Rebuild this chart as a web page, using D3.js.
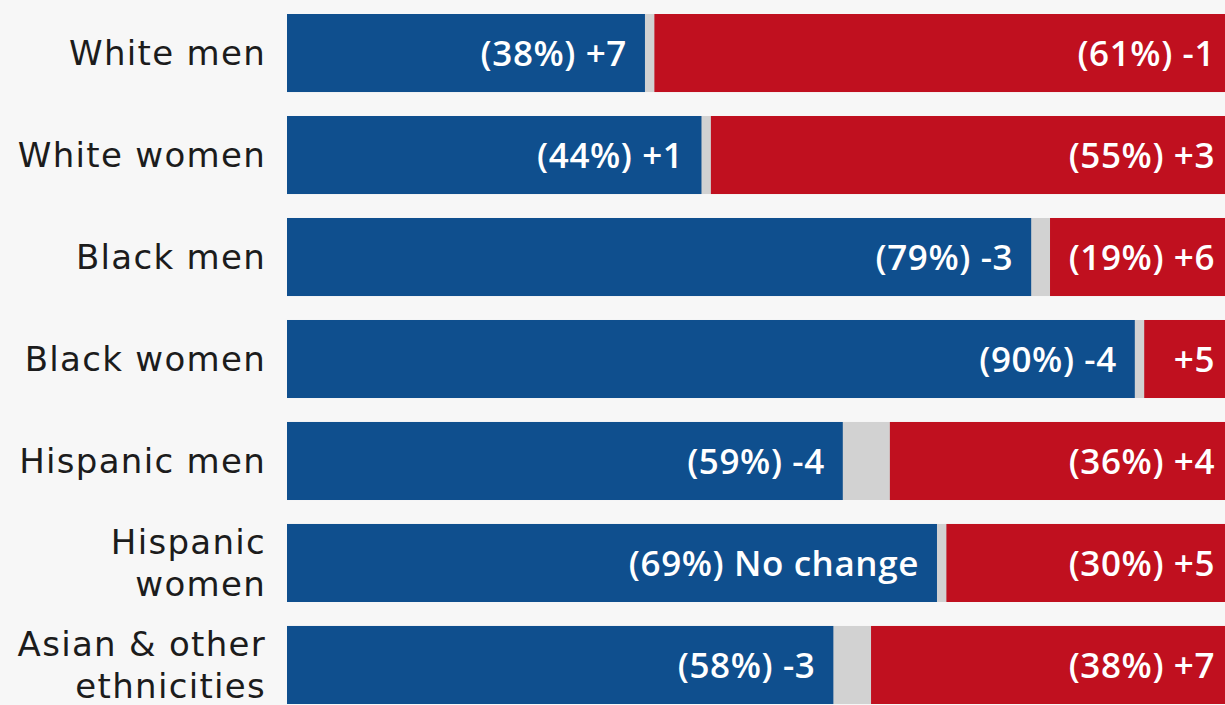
<!DOCTYPE html>
<html><head><meta charset="utf-8">
<script src="https://cdn.jsdelivr.net/npm/d3@7"></script>
<style>
html,body{margin:0;padding:0;background:#f7f7f7;overflow:hidden;}
svg{display:block;}
</style></head>
<body><svg id="c" width="1225" height="705"></svg>
<script>
const categories = ["White men","White women","Black men","Black women","Hispanic men","Hispanic women","Asian & other ethnicities"];
const categoryLines = [["White men"],["White women"],["Black men"],["Black women"],["Hispanic men"],["Hispanic","women"],["Asian & other","ethnicities"]];
const demShare = [38,44,79,90,59,69,58];
const repShare = [61,55,19,9,36,30,38];
const demLabels = ["(38%) +7","(44%) +1","(79%) -3","(90%) -4","(59%) -4","(69%) No change","(58%) -3"];
const repLabels = ["(61%) -1","(55%) +3","(19%) +6","+5","(36%) +4","(30%) +5","(38%) +7"];

const svg = d3.select("#c");
const x = d3.scaleLinear().domain([0,100]).range([287,1229]);
const y = d3.scaleBand().domain(categories).range([14,704]).paddingInner(0.235).paddingOuter(0);

const blue = "#0f4f8e", red = "#c0101f", grey = "#d2d2d2";
const g = svg.append("g");

categories.forEach((c,i)=>{
  const y0 = y(c), h = y.bandwidth();
  g.append("rect").attr("x",x(0)).attr("y",y0).attr("width",x(100)-x(0)).attr("height",h).attr("fill",grey);
  g.append("rect").attr("x",x(0)).attr("y",y0).attr("width",x(demShare[i])-x(0)).attr("height",h).attr("fill",blue);
  g.append("rect").attr("x",x(100-repShare[i])).attr("y",y0).attr("width",x(100)-x(100-repShare[i])).attr("height",h).attr("fill",red);
  const cy = y0 + h/2;
  g.append("text").attr("x",x(demShare[i])-18).attr("y",cy).attr("dy","0.36em")
    .attr("text-anchor","end").attr("fill","#fff").attr("font-family","Open Sans, sans-serif")
    .attr("font-weight",600).attr("font-size",35).attr("letter-spacing",0.6).text(demLabels[i]);
  g.append("text").attr("x",x(100)-14).attr("y",cy).attr("dy","0.36em")
    .attr("text-anchor","end").attr("fill","#fff").attr("font-family","Open Sans, sans-serif")
    .attr("font-weight",600).attr("font-size",35).attr("letter-spacing",0.6).text(repLabels[i]);
  const lines = categoryLines[i];
  const t = g.append("text").attr("text-anchor","end").attr("fill","#1c1c1c")
    .attr("font-family","DejaVu Sans, sans-serif").attr("font-size",34).attr("letter-spacing",1.3);
  lines.forEach((l,k)=>{
    t.append("tspan").attr("x",266).attr("y",cy + (k-(lines.length-1)/2)*42).attr("dy","0.36em").text(l);
  });
});
</script></body></html>
